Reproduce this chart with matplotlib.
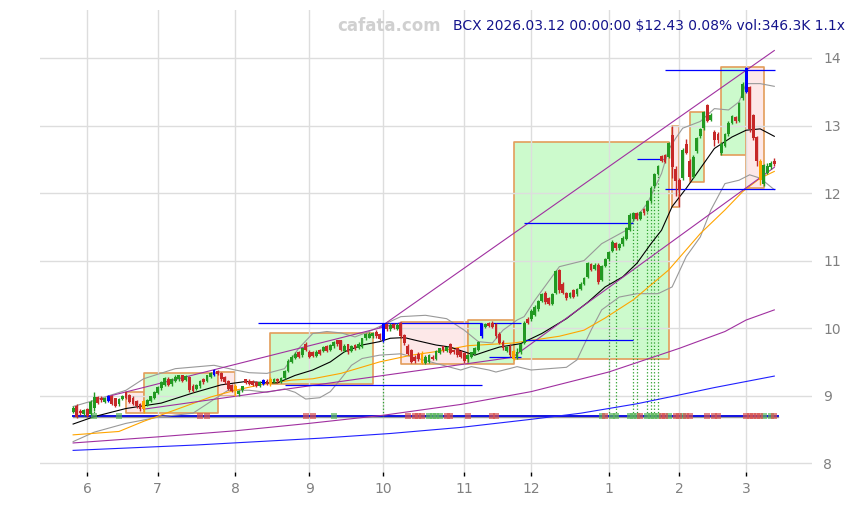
import matplotlib
matplotlib.use("Agg")
import matplotlib.pyplot as plt
import numpy as np
import pandas as pd

# handelsdager (US-kalender) fra 27. mai 2025 til 12. mars 2026
helligdager = ["2025-06-19", "2025-07-04", "2025-09-01", "2025-11-27",
               "2025-12-25", "2026-01-01", "2026-01-19", "2026-02-16"]
datoer = pd.bdate_range("2025-05-27", "2026-03-12", freq="C", holidays=helligdager)

opens = [
    8.76, 8.85, 8.78, 8.73, 8.80, 8.73, 8.82, 8.98, 8.97, 8.91,
    8.92, 9.00, 8.96, 8.87, 8.95, 9.05, 9.01, 8.97, 8.92, 8.88,
    8.80, 8.86, 8.92, 8.97, 9.04, 9.11, 9.16, 9.25, 9.17, 9.22,
    9.24, 9.30, 9.23, 9.28, 9.15, 9.10, 9.14, 9.24, 9.22, 9.28,
    9.30, 9.36, 9.34, 9.28, 9.22, 9.16, 9.07, 9.02, 9.08, 9.24,
    9.22, 9.22, 9.20, 9.15, 9.17, 9.22, 9.17, 9.20, 9.24, 9.20,
    9.26, 9.36, 9.50, 9.56, 9.64, 9.60, 9.76, 9.65, 9.65, 9.59,
    9.67, 9.66, 9.74, 9.68, 9.73, 9.82, 9.82, 9.66, 9.76, 9.66,
    9.75, 9.70, 9.72, 9.85, 9.86, 9.88, 9.95, 9.92, 9.82, 10.06,
    9.98, 10.06, 9.99, 10.08, 9.90, 9.74, 9.67, 9.58, 9.62, 9.62,
    9.49, 9.50, 9.58, 9.55, 9.63, 9.73, 9.66, 9.76, 9.67, 9.70,
    9.66, 9.63, 9.54, 9.58, 9.62, 9.68, 9.88, 10.02, 10.07, 10.08,
    10.06, 9.92, 9.80, 9.66, 9.74, 9.66, 9.56, 9.64, 9.78, 10.14,
    10.13, 10.20, 10.28, 10.40, 10.52, 10.44, 10.36, 10.52, 10.86, 10.66,
    10.52, 10.46, 10.56, 10.50, 10.58, 10.66, 10.76, 10.95, 10.88, 10.94,
    10.72, 10.92, 11.02, 11.14, 11.26, 11.18, 11.24, 11.32, 11.46, 11.62,
    11.70, 11.62, 11.76, 11.74, 11.88, 12.10, 12.28, 12.55, 12.56, 12.54,
    12.86, 12.36, 12.19, 12.22, 12.72, 12.48, 12.24, 12.62, 12.84, 12.96,
    13.30, 13.08, 12.90, 12.88, 12.59, 12.70, 12.87, 13.04, 13.12, 13.07,
    13.40, 13.50, 13.57, 13.15, 12.83, 12.48, 12.13, 12.30, 12.38, 12.48,
]
closes = [
    8.82, 8.69, 8.74, 8.79, 8.70, 8.90, 8.98, 8.89, 8.93, 8.96,
    9.00, 8.88, 8.85, 8.95, 9.00, 8.97, 8.91, 8.88, 8.84, 8.80,
    8.92, 8.93, 8.99, 9.06, 9.13, 9.20, 9.26, 9.16, 9.24, 9.28,
    9.30, 9.22, 9.29, 9.08, 9.07, 9.16, 9.22, 9.20, 9.30, 9.33,
    9.38, 9.32, 9.24, 9.20, 9.10, 9.07, 9.14, 9.07, 9.14, 9.19,
    9.18, 9.16, 9.15, 9.20, 9.23, 9.18, 9.24, 9.24, 9.21, 9.26,
    9.36, 9.52, 9.58, 9.62, 9.58, 9.70, 9.68, 9.58, 9.59, 9.65,
    9.62, 9.72, 9.66, 9.75, 9.80, 9.76, 9.68, 9.74, 9.64, 9.74,
    9.70, 9.77, 9.85, 9.91, 9.92, 9.93, 9.88, 9.84, 10.06, 9.98,
    10.05, 10.00, 10.05, 9.88, 9.78, 9.62, 9.50, 9.52, 9.55, 9.48,
    9.58, 9.60, 9.55, 9.66, 9.70, 9.67, 9.72, 9.63, 9.64, 9.60,
    9.58, 9.52, 9.60, 9.64, 9.70, 9.80, 10.06, 10.06, 10.03, 10.02,
    9.88, 9.78, 9.70, 9.72, 9.60, 9.55, 9.64, 9.76, 10.08, 10.08,
    10.26, 10.32, 10.40, 10.50, 10.38, 10.36, 10.50, 10.84, 10.56, 10.52,
    10.44, 10.52, 10.46, 10.58, 10.66, 10.74, 10.96, 10.86, 10.94, 10.68,
    10.92, 11.02, 11.12, 11.28, 11.18, 11.24, 11.34, 11.48, 11.68, 11.70,
    11.62, 11.72, 11.70, 11.88, 12.08, 12.28, 12.40, 12.48, 12.46, 12.74,
    12.38, 12.18, 12.04, 12.64, 12.60, 12.24, 12.54, 12.81, 12.95, 13.20,
    13.07, 13.16, 12.79, 12.78, 12.73, 12.87, 13.04, 13.14, 13.06, 13.33,
    13.62, 13.85, 12.95, 12.81, 12.48, 12.19, 12.41, 12.40, 12.44, 12.43,
]
highs = [
    8.84, 8.87, 8.80, 8.81, 8.82, 8.93, 9.05, 9.00, 8.99, 8.98,
    9.01, 9.01, 8.97, 8.96, 9.01, 9.06, 9.02, 8.99, 8.93, 8.89,
    8.93, 8.95, 9.00, 9.07, 9.14, 9.22, 9.28, 9.27, 9.26, 9.30,
    9.31, 9.31, 9.31, 9.29, 9.17, 9.18, 9.23, 9.26, 9.31, 9.35,
    9.40, 9.38, 9.35, 9.29, 9.23, 9.17, 9.17, 9.09, 9.15, 9.25,
    9.24, 9.23, 9.21, 9.22, 9.25, 9.24, 9.28, 9.26, 9.26, 9.27,
    9.38, 9.54, 9.60, 9.64, 9.66, 9.71, 9.79, 9.67, 9.66, 9.67,
    9.69, 9.73, 9.75, 9.77, 9.81, 9.83, 9.83, 9.76, 9.77, 9.75,
    9.77, 9.79, 9.86, 9.93, 9.94, 9.95, 9.97, 9.93, 10.07, 10.08,
    10.07, 10.08, 10.07, 10.09, 9.92, 9.76, 9.69, 9.60, 9.64, 9.66,
    9.60, 9.61, 9.60, 9.67, 9.71, 9.74, 9.74, 9.78, 9.69, 9.71,
    9.68, 9.65, 9.62, 9.65, 9.72, 9.81, 10.07, 10.08, 10.09, 10.10,
    10.08, 9.94, 9.82, 9.74, 9.76, 9.68, 9.70, 9.77, 10.10, 10.17,
    10.28, 10.34, 10.42, 10.52, 10.55, 10.46, 10.52, 10.86, 10.88, 10.68,
    10.54, 10.54, 10.58, 10.60, 10.68, 10.76, 10.98, 10.97, 10.96, 10.96,
    10.94, 11.04, 11.14, 11.30, 11.28, 11.26, 11.36, 11.50, 11.70, 11.72,
    11.72, 11.74, 11.78, 11.90, 12.10, 12.30, 12.42, 12.57, 12.58, 12.75,
    12.99, 12.40, 12.22, 12.66, 12.80, 12.50, 12.56, 12.83, 12.97, 13.21,
    13.32, 13.18, 12.93, 12.90, 12.75, 12.89, 13.06, 13.16, 13.14, 13.35,
    13.64, 13.87, 13.59, 13.17, 12.85, 12.50, 12.43, 12.45, 12.48, 12.52,
]
lows = [
    8.74, 8.67, 8.71, 8.70, 8.68, 8.72, 8.78, 8.87, 8.90, 8.89,
    8.91, 8.86, 8.83, 8.85, 8.93, 8.95, 8.89, 8.86, 8.82, 8.78,
    8.74, 8.84, 8.90, 8.95, 9.02, 9.09, 9.14, 9.14, 9.15, 9.20,
    9.22, 9.20, 9.21, 9.06, 9.05, 9.08, 9.12, 9.18, 9.20, 9.26,
    9.29, 9.30, 9.22, 9.18, 9.08, 9.05, 9.00, 9.00, 9.06, 9.17,
    9.16, 9.14, 9.13, 9.13, 9.16, 9.16, 9.14, 9.19, 9.19, 9.19,
    9.25, 9.35, 9.48, 9.54, 9.56, 9.58, 9.66, 9.56, 9.57, 9.58,
    9.60, 9.64, 9.64, 9.66, 9.71, 9.74, 9.66, 9.64, 9.62, 9.64,
    9.68, 9.69, 9.70, 9.83, 9.85, 9.86, 9.86, 9.82, 9.80, 9.96,
    9.96, 9.98, 9.97, 9.86, 9.75, 9.60, 9.48, 9.49, 9.52, 9.47,
    9.47, 9.48, 9.53, 9.53, 9.62, 9.65, 9.64, 9.61, 9.62, 9.58,
    9.56, 9.49, 9.50, 9.56, 9.61, 9.66, 9.86, 10.00, 10.01, 10.00,
    9.86, 9.76, 9.68, 9.64, 9.58, 9.53, 9.54, 9.62, 9.76, 10.06,
    10.11, 10.18, 10.26, 10.38, 10.35, 10.34, 10.34, 10.50, 10.52, 10.50,
    10.42, 10.44, 10.44, 10.48, 10.56, 10.64, 10.74, 10.84, 10.86, 10.66,
    10.70, 10.90, 11.00, 11.12, 11.16, 11.16, 11.22, 11.30, 11.44, 11.58,
    11.60, 11.60, 11.68, 11.72, 11.86, 12.08, 12.26, 12.46, 12.44, 12.52,
    12.22, 11.95, 11.80, 12.20, 12.58, 12.20, 12.22, 12.60, 12.82, 12.94,
    13.05, 13.06, 12.70, 12.74, 12.57, 12.68, 12.85, 13.02, 13.04, 13.05,
    13.38, 13.48, 12.90, 12.78, 12.40, 12.12, 12.10, 12.28, 12.36, 12.40,
]

# markerte lys
blaa_lys = [10, 40, 54, 88, 116, 191]
oransje_lys = [20, 46, 56, 99, 125, 195]

# glidende snitt og bånd (avlest)
svart_x = [0, 6, 15, 25, 34, 42, 49, 55, 58, 63, 68, 73, 77, 82, 87, 90, 94, 98, 103, 107,
           111, 114, 118, 121, 127, 133, 140, 146, 151, 156, 160, 164, 167, 170, 174, 177,
           182, 187, 191, 195, 199]
svart_y = [8.58, 8.69, 8.81, 8.89, 9.04, 9.16, 9.21, 9.19, 9.19, 9.30, 9.38, 9.50, 9.65, 9.75,
           9.80, 9.85, 9.86, 9.81, 9.75, 9.72, 9.65, 9.60, 9.67, 9.72, 9.77, 9.92, 10.14, 10.38,
           10.61, 10.76, 10.96, 11.25, 11.45, 11.80, 12.07, 12.29, 12.66, 12.83, 12.93, 12.95, 12.84]
oransje_x = [0, 13, 20, 29, 39, 46, 53, 62, 68, 76, 87, 96, 104, 112, 125, 138, 145, 151, 159,
             169, 178, 185, 190, 195, 199]
oransje_y = [8.42, 8.47, 8.62, 8.79, 8.98, 9.08, 9.16, 9.23, 9.25, 9.33, 9.50, 9.60, 9.66, 9.74,
             9.78, 9.88, 9.97, 10.15, 10.42, 10.86, 11.40, 11.75, 12.02, 12.22, 12.32]
graa_ovre_x = [0, 6, 15, 20, 29, 40, 46, 50, 55, 60, 64, 68, 72, 76, 80, 84, 88, 93, 100, 106,
               111, 115, 119, 122, 126, 128, 131, 138, 145, 150, 157, 163, 167, 169, 171, 173,
               178, 182, 186, 189, 191, 195, 199]
graa_ovre_y = [8.84, 8.93, 9.08, 9.25, 9.40, 9.45, 9.38, 9.34, 9.33, 9.40, 9.70, 9.92, 9.95, 9.93,
               9.87, 9.95, 10.05, 10.17, 10.19, 10.14, 9.97, 9.80, 9.78, 9.97, 10.12, 10.17, 10.41,
               10.91, 11.00, 11.25, 11.45, 11.85, 12.29, 12.64, 12.81, 12.96, 13.06, 13.25, 13.23,
               13.35, 13.62, 13.62, 13.58]
graa_nedre_x = [0, 6, 15, 25, 34, 41, 44, 50, 55, 60, 63, 66, 70, 73, 76, 79, 82, 87, 93, 100,
                105, 110, 113, 118, 120, 126, 130, 140, 143, 147, 150, 155, 160, 166, 170, 174,
                178, 181, 185, 189, 192, 195, 199]
graa_nedre_y = [8.32, 8.46, 8.59, 8.69, 8.74, 8.98, 9.08, 9.08, 9.05, 9.10, 9.05, 8.95, 8.97,
                9.06, 9.25, 9.45, 9.55, 9.60, 9.62, 9.52, 9.45, 9.38, 9.43, 9.38, 9.35, 9.43,
                9.38, 9.42, 9.53, 9.97, 10.27, 10.46, 10.51, 10.51, 10.61, 11.06, 11.35, 11.75,
                12.14, 12.19, 12.27, 12.22, 12.05]
lilla_x = [0, 24, 46, 67, 88, 110, 130, 152, 172, 185, 191, 199]
lilla_y = [8.30, 8.39, 8.48, 8.59, 8.71, 8.87, 9.06, 9.35, 9.70, 9.95, 10.12, 10.27]
blaa_x = [0, 35, 70, 90, 110, 130, 144, 152, 160, 172, 182, 191, 199]
blaa_y = [8.19, 8.27, 8.37, 8.44, 8.53, 8.65, 8.74, 8.81, 8.88, 9.01, 9.12, 9.21, 9.29]

# trendkanaler (start, slutt)
trend_x0 = [10, 20, 87, 125]
trend_y0 = [8.99, 8.80, 10.01, 9.58]
trend_x1 = [93, 125, 199, 199]
trend_y1 = [10.08, 9.57, 14.11, 12.38]

# horisontale nivåer
nivaa_y = [10.07, 10.07, 9.16, 9.57, 11.56, 9.82, 12.50, 13.82, 12.06]
nivaa_x0 = [52.5, 119, 60, 118, 128, 128, 160, 168, 168]
nivaa_x1 = [116, 127, 116, 127, 159, 159, 167.5, 199.3, 199.3]

# bokser
boks_x0 = [15, 20, 41, 56, 93, 112, 125, 170, 175, 184, 191]
boks_x1 = [20, 41, 46, 85, 112, 125, 169, 172, 179, 191, 196]
boks_lav = [8.74, 8.74, 9.00, 9.17, 9.47, 9.47, 9.54, 11.80, 12.17, 12.57, 12.08]
boks_hoy = [9.06, 9.34, 9.35, 9.93, 10.09, 10.12, 12.75, 12.99, 13.20, 13.86, 13.86]
boks_opp = [False, True, False, True, False, True, True, False, True, True, False]

# signaler langs grunnlinja
grunnlinje = 8.70
gronne_sign = [6, 13, 74, 101, 102, 103, 104, 150, 153, 154, 158, 159, 160, 163, 164, 165,
               166, 169, 173, 196, 198]
rode_sign = [36, 38, 66, 68, 95, 97, 98, 99, 106, 107, 112, 119, 120, 151, 161, 167, 168, 171,
             172, 174, 175, 180, 182, 183, 191, 192, 193, 194, 195, 199]
stiplet = [6, 88, 152, 154, 159, 160, 163, 164, 165, 166]

n = len(closes)
x = np.arange(n)

fig = plt.figure(figsize=(8.56, 5.05), dpi=100)
ax = fig.add_axes([40 / 856, 1 - 472 / 505, 772 / 856, 462 / 505])

for i in range(len(boks_x0)):
    farge = "#ccfacc" if boks_opp[i] else "#fde8e8"
    ax.fill_between([boks_x0[i], boks_x1[i]], boks_lav[i], boks_hoy[i],
                    facecolor=farge, edgecolor="#e39d5a", linewidth=1.2, zorder=0.3)

ax.plot([0, 200], [grunnlinje - 0.012, grunnlinje - 0.012], color="#999999", lw=1, zorder=1)
ax.plot([0, 200], [grunnlinje, grunnlinje], color="#1010e0", lw=1.4, zorder=2)
ax.scatter(gronne_sign, [grunnlinje] * len(gronne_sign), marker="s", s=18,
           color="#5cb85c", alpha=0.7, zorder=2.5, linewidths=0)
ax.scatter(rode_sign, [grunnlinje] * len(rode_sign), marker="s", s=18,
           color="#d9534f", alpha=0.7, zorder=2.5, linewidths=0)
ax.vlines(stiplet, grunnlinje, [lows[i] for i in stiplet], colors="#2ca02c",
          linestyles=":", lw=0.9, zorder=2)

ax.plot(lilla_x, lilla_y, color="#a030a0", lw=0.8, zorder=2)
ax.plot(blaa_x, blaa_y, color="#2020ff", lw=0.8, zorder=2)
ax.plot(graa_ovre_x, graa_ovre_y, color="#999999", lw=0.8, zorder=2)
ax.plot(graa_nedre_x, graa_nedre_y, color="#999999", lw=0.8, zorder=2)
ax.plot(oransje_x, oransje_y, color="#ffa500", lw=0.8, zorder=2)
ax.plot(svart_x, svart_y, color="black", lw=0.8, zorder=2)

for i in range(len(trend_x0)):
    ax.plot([trend_x0[i], trend_x1[i]], [trend_y0[i], trend_y1[i]],
            color="#a030a0", lw=0.8, zorder=2)

ax.hlines(nivaa_y, nivaa_x0, nivaa_x1, colors="#0000ff", lw=0.9, zorder=2)

# lysestaker
farger = []
for i in range(n):
    if i in blaa_lys:
        farger.append("#0000ff")
    elif i in oransje_lys:
        farger.append("#ffa500")
    elif closes[i] >= opens[i]:
        farger.append("#229922")
    else:
        farger.append("#c62828")
bunn = [min(opens[i], closes[i]) for i in range(n)]
hoyde = [max(abs(closes[i] - opens[i]), 0.012) for i in range(n)]
ax.vlines(x, lows, highs, colors=farger, lw=1.0, zorder=3)
ax.bar(x, hoyde, bottom=bunn, width=0.8, color=farger, linewidth=0, zorder=4)

# akser
mnd_pos = [i for i in range(1, n) if datoer[i].month != datoer[i - 1].month]
ax.set_xticks(mnd_pos)
ax.set_xticklabels([str(datoer[i].month) for i in mnd_pos])
ax.set_yticks([8, 9, 10, 11, 12, 13, 14])
ax.yaxis.tick_right()
ax.set_xlim(-9.4, 209.7)
ax.set_ylim(7.87, 14.71)
ax.grid(True, color="#dddddd", lw=1)
ax.set_axisbelow(True)
for s in ax.spines.values():
    s.set_visible(False)
ax.tick_params(axis="x", length=3, width=1, color="black", pad=4,
               labelcolor="#808080", labelsize=10)
ax.tick_params(axis="y", length=0, pad=8, labelcolor="#808080", labelsize=10)

fig.text(389 / 856, 1 - 26 / 505, "cafata.com", ha="center", va="center",
         fontsize=12, fontweight="bold", color="#d0d0d0")
fig.text(845 / 856, 1 - 26 / 505, r"BCX 2026.03.12 00:00:00 \$12.43 0.08% vol:346.3K 1.1x",
         ha="right", va="center", fontsize=10, color="#14148c")

plt.savefig("out.png", dpi=100)
